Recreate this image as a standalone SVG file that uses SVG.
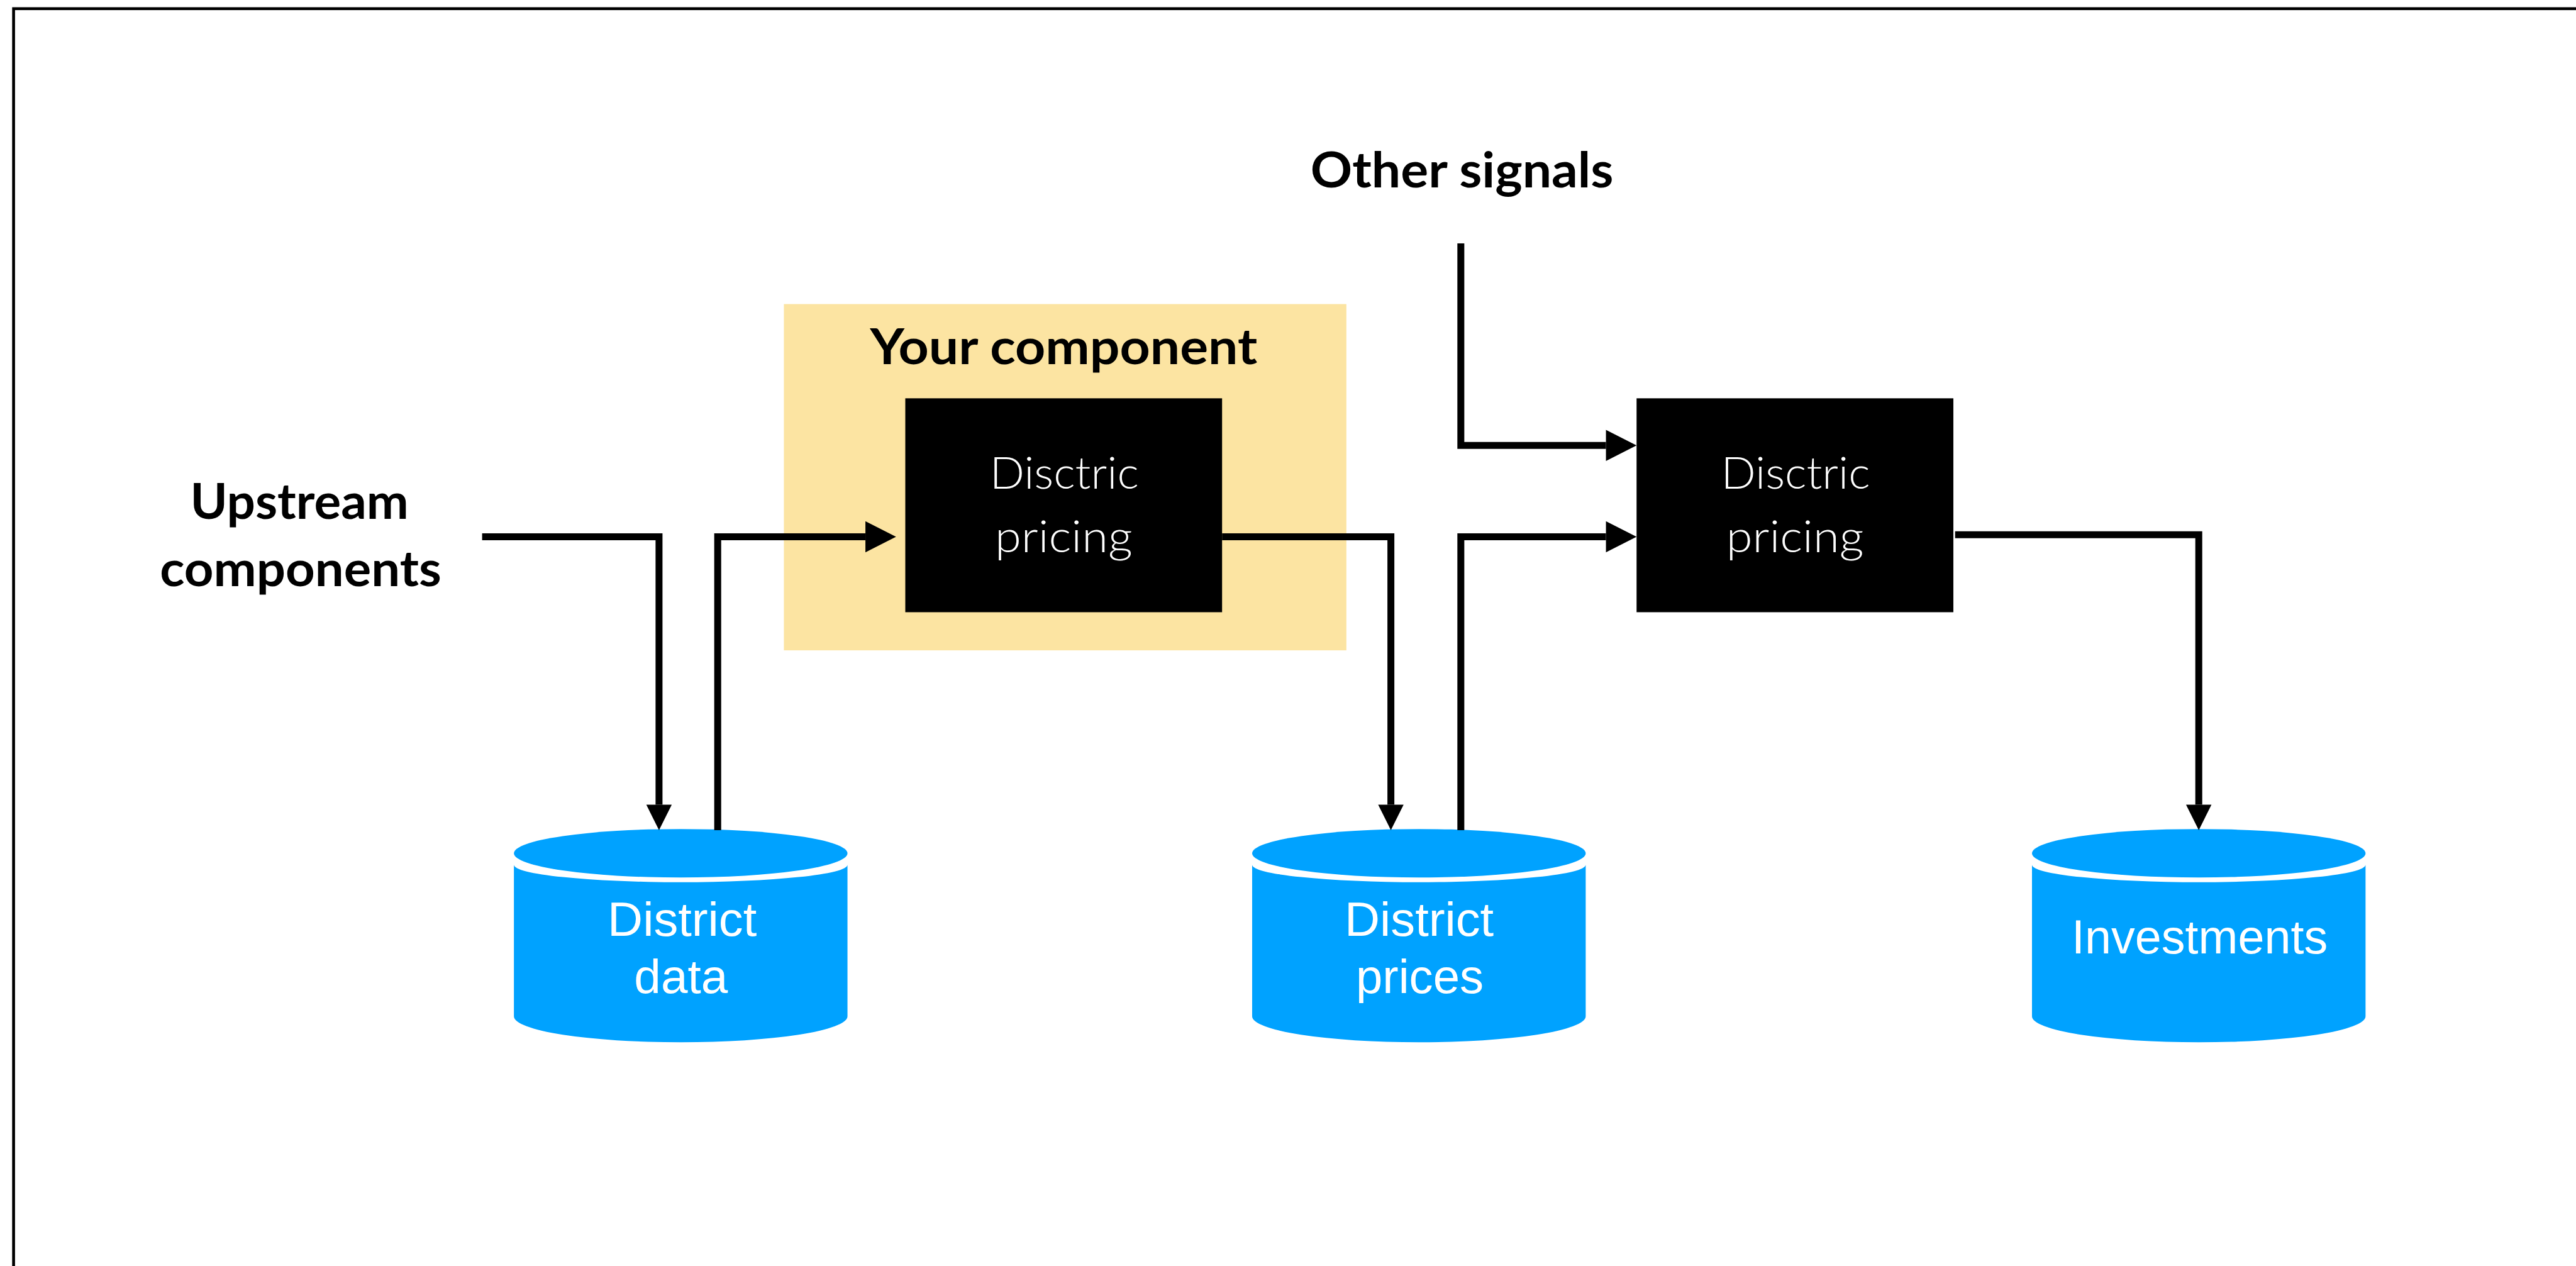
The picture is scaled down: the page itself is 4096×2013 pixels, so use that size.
<svg xmlns="http://www.w3.org/2000/svg" width="4096" height="2013" viewBox="0 0 4096 2013">
  <defs>
    <style>
      .frame { fill: none; stroke: #000; stroke-width: 5; }
      .wire { fill: none; stroke: #000; stroke-width: 12; stroke-linejoin: miter; stroke-linecap: butt; }
      .label { font-family: Lato, "Open Sans", "Liberation Sans", sans-serif; font-weight: 700; font-size: 86px; fill: #000; text-anchor: middle; }
      .highlight { fill: #fce4a2; }
      .proc { fill: #000; }
      .proc-text { font-family: Lato, "Open Sans", "Liberation Sans", sans-serif; font-weight: 300; font-size: 78px; fill: #fff; text-anchor: middle; }
      .store { fill: #00a2ff; }
      .store-text { font-family: "Liberation Sans", Arial, sans-serif; font-size: 82px; fill: #fff; text-anchor: middle; }
    </style>
    <!-- arrowheads: the wire ends at the base, the head extends past it -->
    <marker id="head-h" markerUnits="userSpaceOnUse" markerWidth="53" markerHeight="54" refX="0" refY="27" orient="auto" overflow="visible">
      <path d="M0,0 L53,27 L0,54 Z" fill="#000"/>
    </marker>
    <marker id="head-v" markerUnits="userSpaceOnUse" markerWidth="44" markerHeight="44" refX="0" refY="22" orient="auto" overflow="visible">
      <path d="M0,0 L44,22 L0,44 Z" fill="#000"/>
    </marker>
  </defs>

  <rect x="0" y="0" width="4096" height="2013" fill="#fff"/>

  <g transform="scale(0.9192)">
    <!-- outer frame (right and bottom edges run off the page) -->
    <rect class="frame" x="23.5" y="15" width="6000" height="6000"/>

    <!-- highlighted component area -->
    <g id="your-component">
      <rect class="highlight" x="1356" y="526" width="973" height="599"/>
      <text class="label" x="1840" y="630" textLength="670" lengthAdjust="spacingAndGlyphs">Your component</text>
    </g>

    <g id="upstream-label">
      <text class="label" x="518" y="898" textLength="378" lengthAdjust="spacingAndGlyphs">Upstream</text>
      <text class="label" x="520" y="1014" textLength="487" lengthAdjust="spacingAndGlyphs">components</text>
    </g>

    <g id="other-signals-label">
      <text class="label" x="2529" y="324" textLength="524" lengthAdjust="spacingAndGlyphs">Other signals</text>
    </g>

    <g id="pricing-1">
      <rect class="proc" x="1566" y="689" width="548" height="370"/>
      <text class="proc-text" x="1841" y="845" textLength="258" lengthAdjust="spacingAndGlyphs">Disctric</text>
      <text class="proc-text" x="1840" y="955" textLength="238" lengthAdjust="spacingAndGlyphs">pricing</text>
    </g>

    <g id="pricing-2">
      <rect class="proc" x="2831" y="689" width="548" height="370"/>
      <text class="proc-text" x="3106" y="845" textLength="258" lengthAdjust="spacingAndGlyphs">Disctric</text>
      <text class="proc-text" x="3105" y="955" textLength="238" lengthAdjust="spacingAndGlyphs">pricing</text>
    </g>

    <g id="district-data">
      <path class="store" d="M889,1496 A288.5,30 0 0 0 1466,1496 V1758 A288.5,45 0 0 1 889,1758 Z"/>
      <ellipse class="store" cx="1177.5" cy="1476" rx="288.5" ry="42"/>
      <text class="store-text" x="1180" y="1619" textLength="258" lengthAdjust="spacingAndGlyphs">District</text>
      <text class="store-text" x="1178" y="1718" textLength="162" lengthAdjust="spacingAndGlyphs">data</text>
    </g>

    <g id="district-prices">
      <path class="store" d="M2166,1496 A288.5,30 0 0 0 2743,1496 V1758 A288.5,45 0 0 1 2166,1758 Z"/>
      <ellipse class="store" cx="2454.5" cy="1476" rx="288.5" ry="42"/>
      <text class="store-text" x="2455" y="1619" textLength="258" lengthAdjust="spacingAndGlyphs">District</text>
      <text class="store-text" x="2456" y="1718" textLength="221" lengthAdjust="spacingAndGlyphs">prices</text>
    </g>

    <g id="investments">
      <path class="store" d="M3515,1496 A288.5,30 0 0 0 4092,1496 V1758 A288.5,45 0 0 1 3515,1758 Z"/>
      <ellipse class="store" cx="3803.5" cy="1476" rx="288.5" ry="42"/>
      <text class="store-text" x="3805" y="1649" textLength="443" lengthAdjust="spacingAndGlyphs">Investments</text>
    </g>

    <g id="connectors">
      <!-- upstream components into district data -->
      <path class="wire" d="M834,928.5 H1140 V1392" marker-end="url(#head-v)"/>
      <!-- district data into first pricing -->
      <path class="wire" d="M1241.5,1436 V928.5 H1497" marker-end="url(#head-h)"/>
      <!-- first pricing out to district prices -->
      <path class="wire" d="M2114,928.5 H2406 V1392" marker-end="url(#head-v)"/>
      <!-- other signals into second pricing -->
      <path class="wire" d="M2527,421 V770.5 H2778" marker-end="url(#head-h)"/>
      <!-- district prices into second pricing -->
      <path class="wire" d="M2527,1436 V928.5 H2778" marker-end="url(#head-h)"/>
      <!-- second pricing out to investments -->
      <path class="wire" d="M3382,925 H3803.5 V1392" marker-end="url(#head-v)"/>
    </g>
  </g>
</svg>
